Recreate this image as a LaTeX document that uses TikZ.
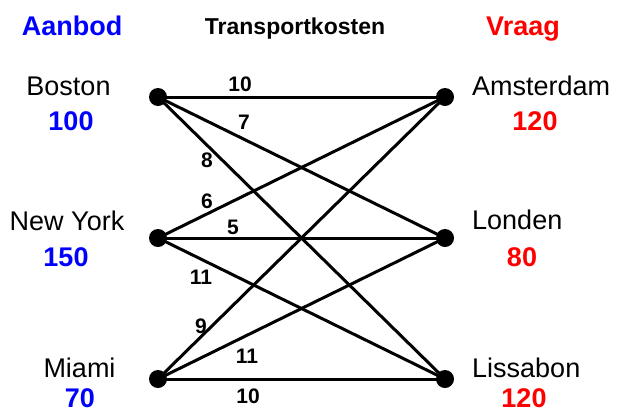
\documentclass[tikz,border=0pt]{standalone}
\usepackage{fontspec}
\setmainfont{Liberation Sans}
\definecolor{supblue}{RGB}{0,0,255}
\definecolor{demred}{RGB}{255,0,0}
\begin{document}
\begin{tikzpicture}[x=1pt,y=-1pt,
  dot/.style={circle,fill=black,inner sep=0pt,minimum size=18pt},
  edge/.style={line width=3pt},
  city/.style={inner sep=0pt,anchor=base,font=\fontsize{27}{30}\selectfont},
  qty/.style={inner sep=0pt,anchor=base,font=\fontsize{27}{30}\selectfont\bfseries},
  head/.style={inner sep=0pt,anchor=base,font=\fontsize{27}{30}\selectfont\bfseries},
  cost/.style={inner sep=0pt,font=\fontsize{21}{24}\selectfont\bfseries}]
\useasboundingbox (0,0) rectangle (617,413);
% headers
\node[head,text=supblue] (hA) at (72,35) {Aanbod};
\node[head,font=\fontsize{23}{26}\selectfont\bfseries] (hT) at (295,34) {Transportkosten};
\node[head,text=demred] (hV) at (523,35) {Vraag};
% dots
\node[dot] (bos) at (158,97) {};
\node[dot] (ny) at (158,238) {};
\node[dot] (mia) at (158,379) {};
\node[dot] (ams) at (445,97) {};
\node[dot] (lon) at (445,238) {};
\node[dot] (lis) at (445,379) {};
% edges
\foreach \s in {bos,ny,mia}{
  \foreach \t in {ams,lon,lis}{
    \draw[edge] (\s.center) -- (\t.center);
  }
}
% city labels
\node[city] (tbos) at (68.5,95) {Boston};
\node[qty,text=supblue] (qbos) at (71,130) {100};
\node[city] (tny) at (67,230) {New York};
\node[qty,text=supblue] (qny) at (66,266) {150};
\node[city] (tmia) at (79.5,377) {Miami};
\node[qty,text=supblue] (qmia) at (80,407) {70};
\node[city,anchor=base west] (tams) at (472,95) {Amsterdam};
\node[qty,text=demred] (qams) at (535,130) {120};
\node[city,anchor=base west] (tlon) at (472,229) {Londen};
\node[qty,text=demred] (qlon) at (522,266) {80};
\node[city,anchor=base west] (tlis) at (472,377) {Lissabon};
\node[qty,text=demred] (qlis) at (524,407) {120};
% costs
\node[cost] (c1) at (240,84) {10};
\node[cost] (c2) at (244,122) {7};
\node[cost] (c3) at (207,160) {8};
\node[cost] (c4) at (207,201) {6};
\node[cost] (c5) at (233,227) {5};
\node[cost] (c6) at (201,277) {11};
\node[cost] (c7) at (201,326) {9};
\node[cost] (c8) at (247,356) {11};
\node[cost] (c9) at (248,396) {10};
\end{tikzpicture}
\end{document}
